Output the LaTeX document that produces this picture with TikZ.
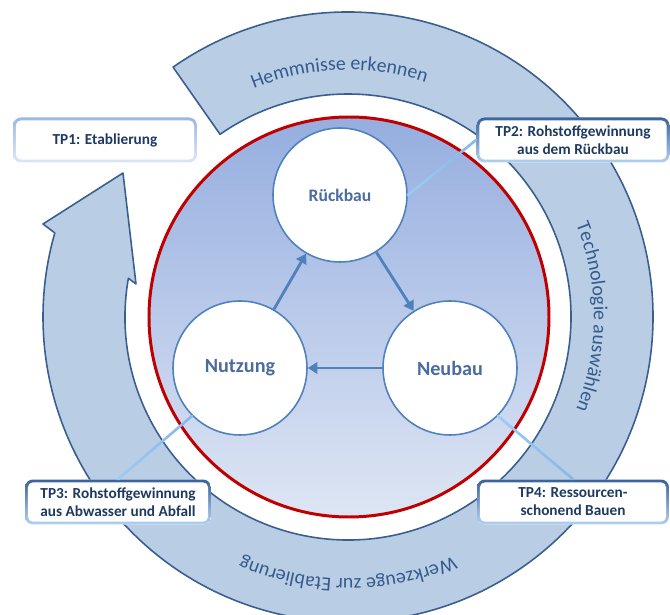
\documentclass[tikz,border=0pt]{standalone}
\usepackage{fontspec}
\setmainfont{Carlito}
\usetikzlibrary{arrows.meta,calc,decorations.text}
\definecolor{ringfill}{HTML}{B9CDE5}
\definecolor{ringline}{HTML}{3A5F8E}
\definecolor{ringtxt}{HTML}{355A8C}
\definecolor{diskup}{HTML}{95AEDF}
\definecolor{diskdown}{HTML}{DEE6F4}
\definecolor{redline}{HTML}{C00000}
\definecolor{steel}{HTML}{4F81BD}
\definecolor{circtxt}{HTML}{4A6C9E}
\definecolor{boxtxt}{HTML}{1F3A60}
\definecolor{boxdark}{HTML}{3A629C}
\definecolor{boxlight}{HTML}{B3D2F2}
\definecolor{boxpale}{HTML}{9BB7E6}
\definecolor{boxpaler}{HTML}{DCE6F6}
\definecolor{linedark}{HTML}{3C68A6}
\definecolor{linelight}{HTML}{9CCBF6}
\newcommand{\ringfont}{\fontsize{11.3}{13}\selectfont}
\begin{document}
\begin{tikzpicture}[x=0.02cm,y=0.02cm,
    phase/.style={circle, draw=steel, line width=0.9pt, fill=white,
      minimum size=2.68cm, inner sep=0pt, text=circtxt,
      font=\bfseries\fontsize{11.5}{13}\selectfont},
    tpbox/.style 2 args={rounded corners=4.5pt, fill=white, minimum height=0.9cm,
      align=center, text=boxtxt, font=\bfseries\fontsize{8.7}{10.3}\selectfont,
      path picture={
        \shade[top color=#1, bottom color=#2] (path picture bounding box.south west)
          rectangle (path picture bounding box.north east);
        \fill[white, rounded corners=3pt]
          ([shift={(1.6pt,1.6pt)}]path picture bounding box.south west)
          rectangle ([shift={(-1.6pt,-1.6pt)}]path picture bounding box.north east);}},
    flow/.style={draw=steel, line width=1.6pt, -{Triangle[length=5.5pt,width=6.5pt]}},
    con/.style={line width=1.5pt, line cap=round},
    ringtext/.style={decorate, decoration={text along path, text align=center,
      text={|\ringfont\color{ringtxt}|#1}}}]
  \useasboundingbox (-348,-298) rectangle (322,317);
  % circular arrow
  \draw[ringline, fill=ringfill, line width=0.9pt, line join=round]
    (125:305) arc[start angle=125, end angle=-196, radius=305]
    -- (-305,93) -- (-225,144) -- (-212,33)
    -- (-190:223) arc[start angle=-190, end angle=125, radius=223] -- cycle;
  \path[ringtext={Hemmnisse erkennen}] (147:247) arc[start angle=147, end angle=37, radius=247];
  \path[ringtext={Technologie auswählen}] (40:246) arc[start angle=40, end angle=-40, radius=246];
  \path[ringtext={Werkzeuge zur Etablierung}] (-40:262) arc[start angle=-40, end angle=-140, radius=262];
  % inner disk
  \shade[top color=diskup, bottom color=diskdown] (1,0) circle[radius=200];
  \draw[redline, line width=1.7pt] (1,0) circle[radius=200];
  \node[phase, font=\bfseries\fontsize{10}{12}\selectfont] (rueck) at (-8,122) {Rückbau};
  \node[phase] (nutz) at (-108,-51) {Nutzung};
  \node[phase] (neu) at (102,-51) {Neubau};
  \node[tpbox={boxpale}{boxpaler}, minimum width=3.68cm] (tp1) at (-243,177) {TP1: Etablierung};
  \node[tpbox={boxdark}{boxlight}, minimum width=3.86cm] (tp2) at (225,177)
    {TP2: Rohstoffgewinnung\\aus dem Rückbau};
  \node[tpbox={boxdark}{boxlight}, minimum width=3.72cm] (tp3) at (-230,-185)
    {TP3: Rohstoffgewinnung\\aus Abwasser und Abfall};
  \node[tpbox={boxdark}{boxlight}, minimum width=3.84cm] (tp4) at (225,-185)
    {TP4: Ressourcen-\\schonend Bauen};
  % connectors, dark end first
  \foreach \a/\b in {rueck.east/tp2.west, tp3.north/nutz.south west, neu.south east/tp4.north}
    \foreach \i [evaluate=\i as \p using int(100-5*\i)] in {0,...,19}
      \draw[con, color=linedark!\p!linelight] ($(\a)!\i/20!(\b)$) -- ($(\a)!\i/20+0.05!(\b)$);
  \draw[flow] (nutz) -- (rueck);
  \draw[flow] (rueck) -- (neu);
  \draw[flow] (neu) -- (nutz);
\end{tikzpicture}
\end{document}
